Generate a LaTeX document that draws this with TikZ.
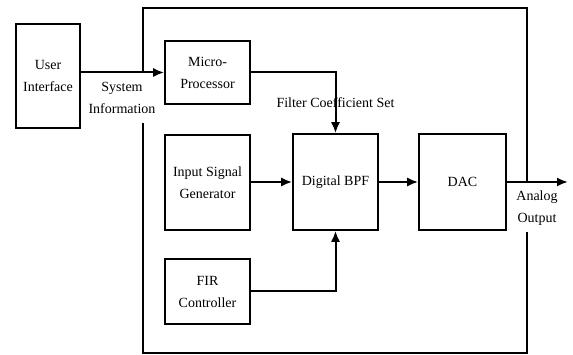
\documentclass[tikz,border=0pt]{standalone}
\usepackage{fontspec}
\setmainfont{Liberation Serif}
\usetikzlibrary{arrows.meta}

\begin{document}
\begin{tikzpicture}[x=1pt,y=-1pt,
  every node/.style={font=\fontsize{14}{22}\selectfont, align=center, inner sep=0pt},
  block/.style={draw, line width=1.6pt, minimum width=85pt},
  flow/.style={line width=2pt, -{Latex[length=11pt,width=9pt]}},
  frameline/.style={line width=1.4pt}]
\useasboundingbox (0,0) rectangle (573,355);
% blocks
\node [block, minimum width=64pt, minimum height=104pt] (ui) at (48,76) {User\\Interface};
\node [block, minimum height=63pt] (micro) at (207.5,72.5) {Micro-\\Processor};
\node [block, minimum height=95pt] (isg) at (207.5,182.5) {Input Signal\\Generator};
\node [block, minimum height=65pt] (fir) at (207.5,291.5) {FIR\\Controller};
\node [block, minimum height=96pt] (bpf) at (335.5,182) {Digital BPF};
\node [block, minimum width=87pt, minimum height=96pt] (dac) at (462.5,182) {DAC};
% labels
\node (sysinfo) at (122,98) {System\\Information};
\node (coef) at (335.5,103) {Filter Coefficient Set};
\node (analog) at (537,208) {Analog\\Output};
% outer frame
\coordinate (fa) at (143,72);
\coordinate (fb) at (143,8);
\coordinate (fc) at (527,8);
\coordinate (fd) at (527,182);
\coordinate (fe) at (527,232);
\coordinate (ff) at (527,353);
\coordinate (fg) at (143,353);
\coordinate (fh) at (143,123);
\draw [frameline] (fa) -- (fb) -- (fc) -- (fd);
\draw [frameline] (fe) -- (ff) -- (fg) -- (fh);
% connectors
\coordinate (out) at (568,182);
\draw [flow] (ui.east |- micro) -- (micro.west);
\draw [flow] (micro.east) -| (bpf.north);
\draw [flow] (isg.east |- bpf) -- (bpf.west);
\draw [flow] (fir.east) -| (bpf.south);
\draw [flow] (bpf.east) -- (dac.west);
\draw [flow] (dac.east) -- (out);
\end{tikzpicture}
\end{document}
